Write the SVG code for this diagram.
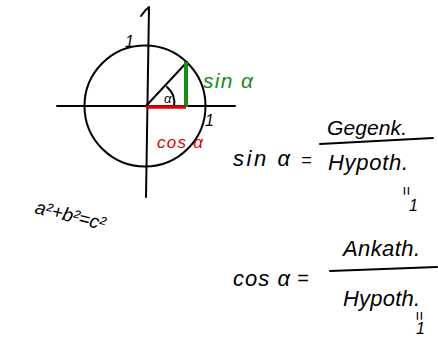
<svg xmlns="http://www.w3.org/2000/svg" width="438" height="347" viewBox="0 0 438 347">
<style>
.ln{fill:none;stroke:#000;stroke-width:2;stroke-linecap:round;stroke-linejoin:round}
.t{font-family:"Liberation Sans",Arial,sans-serif;font-style:italic;fill:#000}
</style>
<rect width="438" height="347" fill="#fff"/>
<g id="unit-circle">
<circle cx="145" cy="106" r="60.5" class="ln"/>
<path class="ln" d="M57,106 L235,106"/>
<path class="ln" d="M141,16 Q145,10 149,7 L146,197"/>
<path class="ln" d="M146,106 L187,62"/>
<path class="ln" d="M167,87 Q176,95 174,106"/>
<path fill="none" stroke="#1a8a1a" stroke-width="4" d="M186,62 L186,107"/>
<path fill="none" stroke="#e00000" stroke-width="3.5" d="M146,107 L186,107"/>
<text class="t" x="164" y="103" font-size="13">α</text>
<text class="t" x="125" y="47" font-size="16">1</text>
<text class="t" x="205" y="126" font-size="16">1</text>
<text class="t" x="203" y="88" font-size="21" style="fill:#1a8a1a" textLength="50">sin α</text>
<text class="t" x="157" y="148" font-size="17" style="fill:#e00000" textLength="46">cos α</text>
</g>
<g id="sin-formula">
<text class="t" x="233" y="166" font-size="22" textLength="57">sin α</text>
<text class="t" x="301" y="166" font-size="18">=</text>
<path class="ln" d="M320,144 L433,138"/>
<text class="t" x="327" y="135" font-size="21" textLength="80">Gegenk.</text>
<text class="t" x="328" y="170" font-size="22" textLength="80">Hypoth.</text>
<text class="t" font-size="16" transform="translate(401,186) rotate(90)">=</text>
<text class="t" x="409" y="211" font-size="16">1</text>
</g>
<g id="cos-formula">
<text class="t" x="233" y="286" font-size="22" textLength="57">cos α</text>
<text class="t" x="297" y="285" font-size="20">=</text>
<path class="ln" d="M330,271 L437,267"/>
<text class="t" x="343" y="256" font-size="22" textLength="77">Ankath.</text>
<text class="t" x="343" y="306" font-size="22" textLength="77">Hypoth.</text>
<text class="t" font-size="16" transform="translate(414,311) rotate(90)">=</text>
<text class="t" x="416" y="334" font-size="16">1</text>
</g>
<g id="pythagoras">
<text class="t" font-size="19" transform="translate(34,213) rotate(14)">a²+b²=c²</text>
</g>
</svg>
